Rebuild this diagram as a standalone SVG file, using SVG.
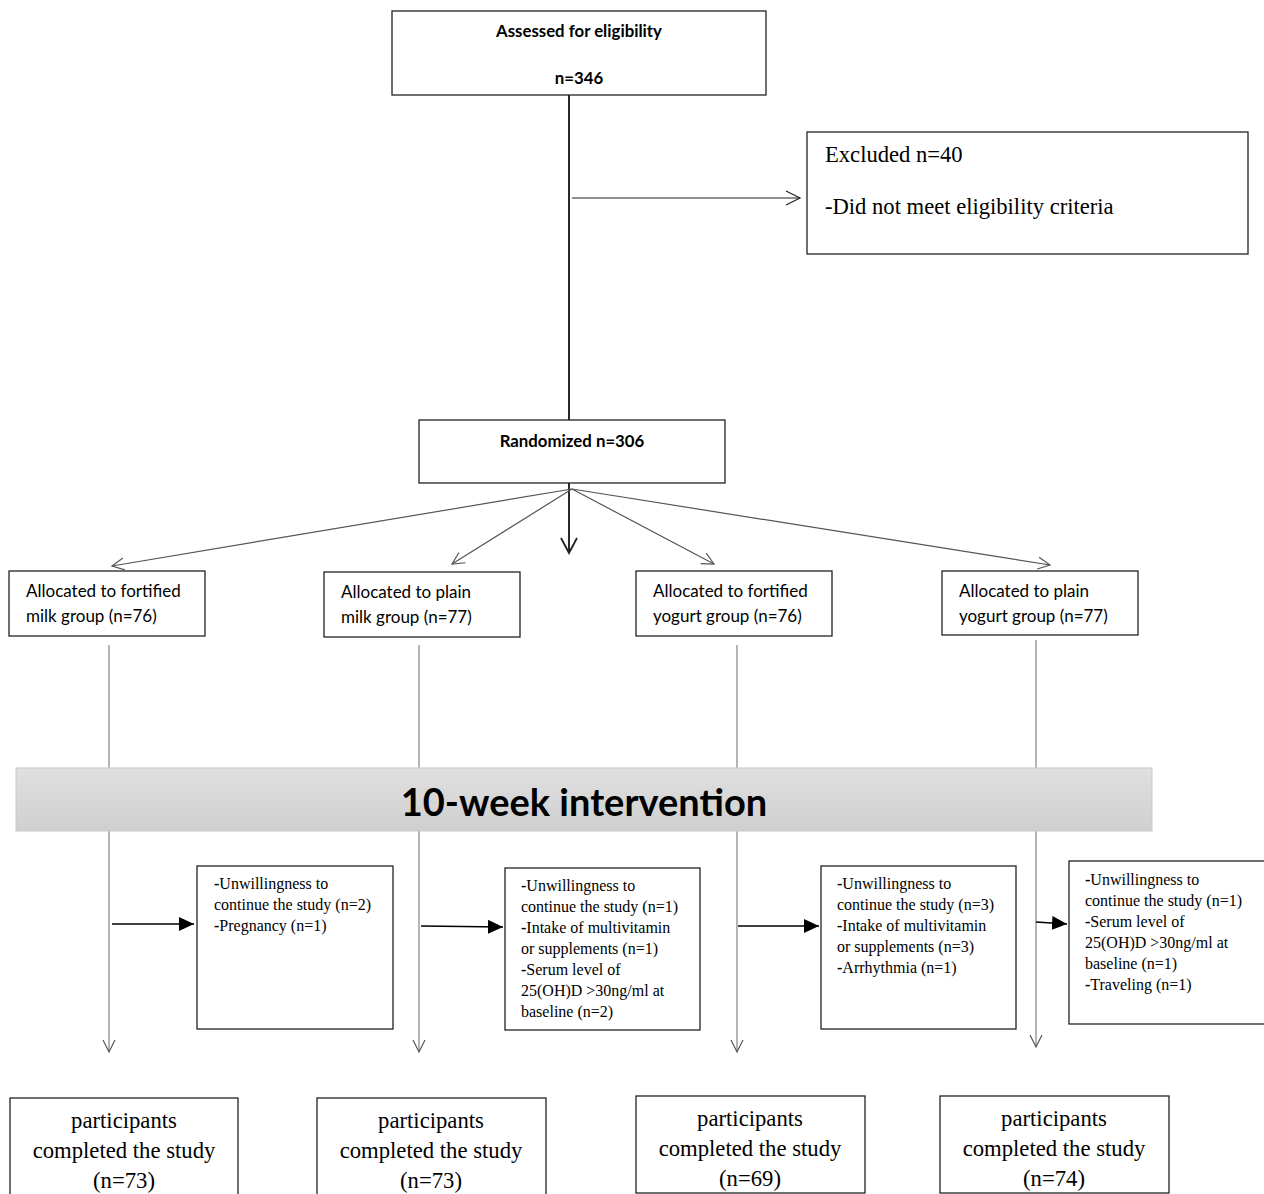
<svg xmlns="http://www.w3.org/2000/svg" width="1264" height="1194" viewBox="0 0 1264 1194">
<defs>
<marker id="open" markerWidth="16" markerHeight="16" refX="14" refY="8" orient="auto" markerUnits="userSpaceOnUse">
<path d="M2,2 L14,8 L2,14" fill="none" stroke="#555" stroke-width="1.2"/>
</marker>
<marker id="openTop" markerWidth="18" markerHeight="18" refX="16" refY="9" orient="auto" markerUnits="userSpaceOnUse">
<path d="M2,2 L16,9 L2,16" fill="none" stroke="#222" stroke-width="1.2"/>
</marker>
<marker id="openDark" markerWidth="20" markerHeight="20" refX="17" refY="10" orient="auto" markerUnits="userSpaceOnUse">
<path d="M2,2 L17,10 L2,18" fill="none" stroke="#222" stroke-width="1.8"/>
</marker>
<marker id="filled" markerWidth="16" markerHeight="14" refX="15" refY="7" orient="auto" markerUnits="userSpaceOnUse">
<path d="M0,0 L15,7 L0,14 Z" fill="#000"/>
</marker>
<linearGradient id="bar" x1="0" y1="0" x2="0" y2="1">
<stop offset="0" stop-color="#e0e0e0"/>
<stop offset="1" stop-color="#cfcfcf"/>
</linearGradient>
<style>
.box{fill:#fff;stroke:#222;stroke-width:1.3}
.sans{font-family:Lato,"Liberation Sans",sans-serif;fill:#000}
.bold{font-weight:bold;font-size:16.8px}
.alloc{font-size:17px}
.serif{font-family:"Liberation Serif","Times New Roman",serif;fill:#000}
.side{font-size:16px}
.done{font-size:22.7px}
.excl{font-size:22.6px}
.thin{stroke:#777;stroke-width:1.1;fill:none}
.dark{stroke:#111;stroke-width:1.8;fill:none}
.fan{stroke:#555;stroke-width:1.2;fill:none}
</style>
</defs>

<g id="connectors">
<line class="dark" x1="569" y1="95" x2="569" y2="420"/>
<line stroke="#222" stroke-width="1.2" x1="572" y1="198" x2="800" y2="198" marker-end="url(#openTop)"/>
<line class="dark" x1="569" y1="483" x2="569" y2="553" marker-end="url(#openDark)"/>
<line class="fan" x1="572" y1="489" x2="112" y2="566" marker-end="url(#open)"/>
<line class="fan" x1="572" y1="489" x2="452" y2="564" marker-end="url(#open)"/>
<line class="fan" x1="572" y1="489" x2="714" y2="564" marker-end="url(#open)"/>
<line class="fan" x1="572" y1="489" x2="1050" y2="565" marker-end="url(#open)"/>
<line class="thin" x1="109" y1="645" x2="109" y2="1052" marker-end="url(#open)"/>
<line class="thin" x1="419" y1="645" x2="419" y2="1052" marker-end="url(#open)"/>
<line class="thin" x1="737" y1="645" x2="737" y2="1052" marker-end="url(#open)"/>
<line class="thin" x1="1036" y1="640" x2="1036" y2="1047" marker-end="url(#open)"/>
<line stroke="#000" stroke-width="1.3" x1="112" y1="924" x2="194" y2="924" marker-end="url(#filled)"/>
<line stroke="#000" stroke-width="1.3" x1="421" y1="926" x2="503" y2="927" marker-end="url(#filled)"/>
<line stroke="#000" stroke-width="1.3" x1="738" y1="926" x2="819" y2="926" marker-end="url(#filled)"/>
<line stroke="#000" stroke-width="1.3" x1="1036" y1="922" x2="1067" y2="924" marker-end="url(#filled)"/>
</g>

<g id="intervention">
<rect x="16" y="768" width="1136" height="63" fill="url(#bar)" stroke="#c8c8c8" stroke-width="1"/>
<text class="sans" x="584" y="816" text-anchor="middle" font-size="38" font-weight="bold">10-week intervention</text>
</g>

<g id="assessed">
<rect class="box" x="392" y="11" width="374" height="84"/>
<text class="sans bold" x="579" y="37" text-anchor="middle">Assessed for eligibility</text>
<text class="sans bold" x="579" y="84" text-anchor="middle">n=346</text>
</g>

<g id="excluded">
<rect class="box" x="807" y="132" width="441" height="122"/>
<text class="serif excl" x="825" y="162">Excluded n=40</text>
<text class="serif excl" x="825" y="214">-Did not meet eligibility criteria</text>
</g>

<g id="randomized">
<rect class="box" x="419" y="420" width="306" height="63"/>
<text class="sans bold" x="572" y="447" text-anchor="middle">Randomized n=306</text>
</g>

<g id="alloc1">
<rect class="box" x="9" y="571" width="196" height="65"/>
<text class="sans alloc" x="26" y="597">Allocated to fortified</text>
<text class="sans alloc" x="26" y="622">milk group (n=76)</text>
</g>
<g id="alloc2">
<rect class="box" x="324" y="572" width="196" height="65"/>
<text class="sans alloc" x="341" y="598">Allocated to plain</text>
<text class="sans alloc" x="341" y="623">milk group (n=77)</text>
</g>
<g id="alloc3">
<rect class="box" x="636" y="571" width="196" height="65"/>
<text class="sans alloc" x="653" y="597">Allocated to fortified</text>
<text class="sans alloc" x="653" y="622">yogurt group (n=76)</text>
</g>
<g id="alloc4">
<rect class="box" x="942" y="571" width="196" height="64"/>
<text class="sans alloc" x="959" y="597">Allocated to plain</text>
<text class="sans alloc" x="959" y="622">yogurt group (n=77)</text>
</g>

<g id="lost1">
<rect class="box" x="197" y="866" width="196" height="163"/>
<text class="serif side" x="214" y="889"><tspan font-weight="bold">-</tspan>Unwillingness to</text>
<text class="serif side" x="214" y="910">continue the study (n=2)</text>
<text class="serif side" x="214" y="931"><tspan font-weight="bold">-</tspan>Pregnancy (n=1)</text>
</g>
<g id="lost2">
<rect class="box" x="505" y="868" width="195" height="162"/>
<text class="serif side" x="521" y="891"><tspan font-weight="bold">-</tspan>Unwillingness to</text>
<text class="serif side" x="521" y="912">continue the study (n=1)</text>
<text class="serif side" x="521" y="933"><tspan font-weight="bold">-</tspan>Intake of multivitamin</text>
<text class="serif side" x="521" y="954">or supplements (n=1)</text>
<text class="serif side" x="521" y="975"><tspan font-weight="bold">-</tspan>Serum level of</text>
<text class="serif side" x="521" y="996">25(OH)D &gt;30ng/ml at</text>
<text class="serif side" x="521" y="1017">baseline (n=2)</text>
</g>
<g id="lost3">
<rect class="box" x="821" y="866" width="195" height="163"/>
<text class="serif side" x="837" y="889"><tspan font-weight="bold">-</tspan>Unwillingness to</text>
<text class="serif side" x="837" y="910">continue the study (n=3)</text>
<text class="serif side" x="837" y="931"><tspan font-weight="bold">-</tspan>Intake of multivitamin</text>
<text class="serif side" x="837" y="952">or supplements (n=3)</text>
<text class="serif side" x="837" y="973"><tspan font-weight="bold">-</tspan>Arrhythmia (n=1)</text>
</g>
<g id="lost4">
<rect class="box" x="1069" y="861" width="196" height="163"/>
<text class="serif side" x="1085" y="885"><tspan font-weight="bold">-</tspan>Unwillingness to</text>
<text class="serif side" x="1085" y="906">continue the study (n=1)</text>
<text class="serif side" x="1085" y="927"><tspan font-weight="bold">-</tspan>Serum level of</text>
<text class="serif side" x="1085" y="948">25(OH)D &gt;30ng/ml at</text>
<text class="serif side" x="1085" y="969">baseline (n=1)</text>
<text class="serif side" x="1085" y="990"><tspan font-weight="bold">-</tspan>Traveling (n=1)</text>
</g>

<g id="done1">
<rect class="box" x="10" y="1098" width="228" height="110"/>
<text class="serif done" x="124" y="1128" text-anchor="middle">participants</text>
<text class="serif done" x="124" y="1158" text-anchor="middle">completed the study</text>
<text class="serif done" x="124" y="1188" text-anchor="middle">(n=73)</text>
</g>
<g id="done2">
<rect class="box" x="317" y="1098" width="229" height="110"/>
<text class="serif done" x="431" y="1128" text-anchor="middle">participants</text>
<text class="serif done" x="431" y="1158" text-anchor="middle">completed the study</text>
<text class="serif done" x="431" y="1188" text-anchor="middle">(n=73)</text>
</g>
<g id="done3">
<rect class="box" x="636" y="1096" width="229" height="97"/>
<text class="serif done" x="750" y="1126" text-anchor="middle">participants</text>
<text class="serif done" x="750" y="1156" text-anchor="middle">completed the study</text>
<text class="serif done" x="750" y="1186" text-anchor="middle">(n=69)</text>
</g>
<g id="done4">
<rect class="box" x="940" y="1096" width="229" height="97"/>
<text class="serif done" x="1054" y="1126" text-anchor="middle">participants</text>
<text class="serif done" x="1054" y="1156" text-anchor="middle">completed the study</text>
<text class="serif done" x="1054" y="1186" text-anchor="middle">(n=74)</text>
</g>
</svg>
